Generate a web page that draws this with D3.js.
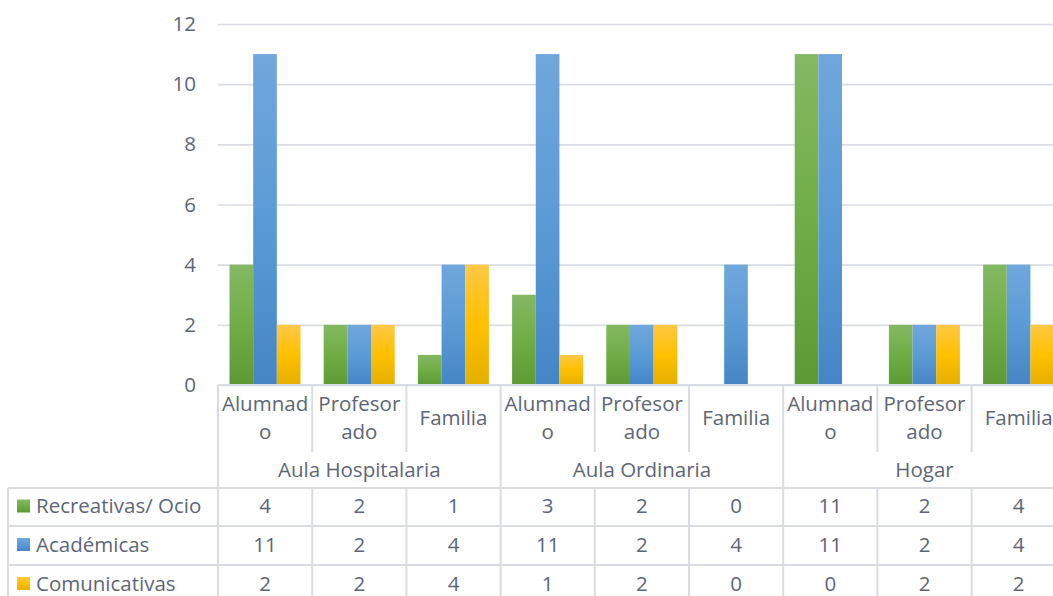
<!DOCTYPE html>
<html>
<head>
<meta charset="utf-8">
<script src="https://cdn.jsdelivr.net/npm/d3@7"></script>
<style>
  html, body { margin: 0; padding: 0; background: #fff; overflow: hidden; }
  svg text { font-family: "Open Sans", "Noto Sans", sans-serif; fill: #5d6676; }
</style>
</head>
<body>
<svg id="chart" width="1053" height="596"></svg>
<script>
// Chart data
const groups = ["Aula Hospitalaria", "Aula Ordinaria", "Hogar"];
const subcategories = ["Alumnado", "Profesorado", "Familia"];
const seriesNames = ["Recreativas/ Ocio", "Académicas", "Comunicativas"];
const recreativas = [4, 2, 1, 3, 2, 0, 11, 2, 4];
const academicas = [11, 2, 4, 11, 2, 4, 11, 2, 4];
const comunicativas = [2, 2, 4, 1, 2, 0, 0, 2, 2];
const yTicks = [0, 2, 4, 6, 8, 10, 12];

const seriesValues = [recreativas, academicas, comunicativas];
const gradients = [
  ["#84b862", "#70ad47", "#5d9a35"],
  ["#70a7dc", "#5b9bd5", "#4585c6"],
  ["#ffc845", "#ffc000", "#e5b000"]
];

// Build the flat category list: each group holds the three subcategories
const cats = [];
groups.forEach((g, gi) => subcategories.forEach((s, si) => cats.push({ group: g, gi, label: s, i: gi * 3 + si })));

const svg = d3.select("#chart");
const gridColor = "#d9dde3";
const textColor = "#5d6676";
const fontSize = 20.5;
const plotLeft = 218, cellW = 94.2, plotTop = 24, plotBottom = 385;

const x = d3.scaleBand().domain(cats.map(c => c.i)).range([plotLeft, plotLeft + cellW * cats.length]).padding(0);
const xInner = d3.scaleBand().domain(d3.range(seriesNames.length)).range([11.5, 82.5]).padding(0);
const y = d3.scaleLinear().domain([0, 12]).range([plotBottom, plotTop]);

// Gradients
const defs = svg.append("defs");
gradients.forEach((c, k) => {
  const lg = defs.append("linearGradient").attr("id", "grad" + k).attr("x1", 0).attr("y1", 0).attr("x2", 0).attr("y2", 1);
  lg.append("stop").attr("offset", "0%").attr("stop-color", c[0]);
  lg.append("stop").attr("offset", "50%").attr("stop-color", c[1]);
  lg.append("stop").attr("offset", "100%").attr("stop-color", c[2]);
});

// Gridlines + y tick labels
const yAxis = svg.append("g").attr("transform", `translate(${plotLeft},0)`)
  .call(d3.axisLeft(y).tickValues(yTicks).tickSize(-(cellW * cats.length)).tickPadding(22));
yAxis.select(".domain").remove();
yAxis.selectAll(".tick line").attr("stroke", gridColor).attr("stroke-width", 1.6);
yAxis.selectAll(".tick text").attr("font-size", fontSize).style("font-family", '"Open Sans", sans-serif').attr("fill", textColor);

// Bars
seriesValues.forEach((vals, k) => {
  svg.append("g").selectAll("rect").data(cats).join("rect")
    .attr("x", c => x(c.i) + xInner(k))
    .attr("width", xInner.bandwidth())
    .attr("y", c => y(vals[c.i]))
    .attr("height", c => y(0) - y(vals[c.i]))
    .attr("fill", `url(#grad${k})`);
});

// Data table beneath the plot
const line = (x1, y1, x2, y2) => svg.append("line").attr("x1", x1).attr("y1", y1).attr("x2", x2).attr("y2", y2)
  .attr("stroke", gridColor).attr("stroke-width", 2);
const plotRight = plotLeft + cellW * cats.length;
const rowCat = 385, rowGroup = 455, rowData = [488, 526, 565], tableBottom = 604, tableLeft = 8;

line(plotLeft, rowCat, plotRight, rowCat);
line(plotLeft, rowCat, plotLeft, tableBottom);
cats.forEach(c => {
  const xr = x(c.i) + cellW;
  if ((c.i + 1) % 3 === 0) line(xr, rowCat, xr, tableBottom);
  else { line(xr, rowCat, xr, rowGroup - 3); line(xr, rowData[0], xr, tableBottom); }
});
rowData.forEach(ry => line(tableLeft, ry, plotRight, ry));
line(tableLeft, rowData[0], tableLeft, tableBottom);

// Category labels, wrapped by character when wider than the cell
const measure = svg.append("text").attr("font-size", fontSize).attr("visibility", "hidden");
const textW = s => { measure.text(s); return measure.node().getComputedTextLength(); };
function wrap(s, maxW) {
  const lines = []; let cur = "";
  for (const ch of s) {
    if (cur && textW(cur + ch) > maxW) { lines.push(cur); cur = ch; } else cur += ch;
  }
  lines.push(cur);
  return lines;
}
cats.forEach(c => {
  const lines = wrap(c.label, cellW - 4);
  const cx = x(c.i) + cellW / 2;
  const lh = 28;
  const cy = (rowCat + rowGroup) / 2 - 2;
  const t = svg.append("text").attr("font-size", fontSize).attr("text-anchor", "middle");
  lines.forEach((ln, j) => {
    t.append("tspan").attr("x", cx).attr("y", cy + (j - (lines.length - 1) / 2) * lh).attr("dy", "0.35em").text(ln);
  });
});
measure.remove();

// Group labels
groups.forEach((g, gi) => {
  svg.append("text").attr("font-size", fontSize).attr("text-anchor", "middle")
    .attr("x", plotLeft + cellW * (gi * 3 + 1.5)).attr("y", (rowGroup + rowData[0]) / 2 - 1.5).attr("dy", "0.35em").text(g);
});

// Series rows: legend key, name, values
const rowH = [38, 39, 39];
seriesNames.forEach((name, k) => {
  const cy = rowData[k] + rowH[k] / 2 - 1;
  svg.append("rect").attr("x", 17).attr("y", cy - 6.5).attr("width", 13).attr("height", 13).attr("fill", `url(#grad${k})`);
  svg.append("text").attr("font-size", fontSize).attr("x", 36).attr("y", cy).attr("dy", "0.35em").text(name);
  cats.forEach(c => {
    svg.append("text").attr("font-size", fontSize).attr("text-anchor", "middle")
      .attr("x", x(c.i) + cellW / 2).attr("y", cy).attr("dy", "0.35em").text(seriesValues[k][c.i]);
  });
});
</script>
</body>
</html>
